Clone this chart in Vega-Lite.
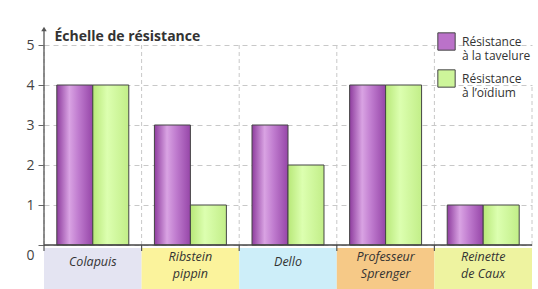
{
  "$schema": "https://vega.github.io/schema/vega-lite/v6.json",
  "width": 488,
  "height": 269,
  "autosize": {"type": "none"},
  "padding": {"left": 44, "top": 20, "right": 6, "bottom": 0},
  "background": "white",
  "config": {"view": {"stroke": null}, "font": "Open Sans"},
  "datasets": {
    "cats": [
      {"cat": "Colapuis", "label": "Colapuis"},
      {"cat": "Ribstein pippin", "label": "Ribstein\npippin"},
      {"cat": "Dello", "label": "Dello"},
      {"cat": "Professeur Sprenger", "label": "Professeur\nSprenger"},
      {"cat": "Reinette de Caux", "label": "Reinette\nde Caux"}
    ],
    "bars": [
      {"cat": "Colapuis", "serie": "Résistance|à la tavelure", "value": 4},
      {"cat": "Colapuis", "serie": "Résistance|à l’oïdium", "value": 4},
      {"cat": "Ribstein pippin", "serie": "Résistance|à la tavelure", "value": 3},
      {"cat": "Ribstein pippin", "serie": "Résistance|à l’oïdium", "value": 1},
      {"cat": "Dello", "serie": "Résistance|à la tavelure", "value": 3},
      {"cat": "Dello", "serie": "Résistance|à l’oïdium", "value": 2},
      {"cat": "Professeur Sprenger", "serie": "Résistance|à la tavelure", "value": 4},
      {"cat": "Professeur Sprenger", "serie": "Résistance|à l’oïdium", "value": 4},
      {"cat": "Reinette de Caux", "serie": "Résistance|à la tavelure", "value": 1},
      {"cat": "Reinette de Caux", "serie": "Résistance|à l’oïdium", "value": 1}
    ]
  },
  "layer": [
    {
      "data": {"name": "cats"},
      "mark": {"type": "rect"},
      "encoding": {
        "x": {
          "field": "cat", "type": "nominal",
          "scale": {"domain": ["Colapuis", "Ribstein pippin", "Dello", "Professeur Sprenger", "Reinette de Caux"], "paddingInner": 0, "paddingOuter": 0},
          "axis": null
        },
        "y": {
          "datum": -0.075, "type": "quantitative",
          "scale": {"domain": [-1.1, 5.625], "nice": false, "zero": false},
          "axis": {
            "values": [0, 1, 2, 3, 4, 5],
            "grid": true, "gridDash": [5, 4], "gridColor": "#c8c8c8",
            "domain": false, "tickColor": "#666", "tickSize": 6,
            "labelFontSize": 14, "labelColor": "#444", "labelPadding": 4,
            "labelOffset": {"condition": {"test": "datum.value === 0", "value": 10}, "value": 0},
            "title": "Échelle de résistance", "titleAngle": 0, "titleAlign": "left",
            "titleX": 10, "titleY": 20, "titleBaseline": "alphabetic",
            "titleFontSize": 14, "titleFontWeight": "bold", "titleColor": "#333"
          }
        },
        "y2": {"datum": -1.1},
        "fill": {
          "field": "cat", "type": "nominal",
          "scale": {"domain": ["Colapuis", "Ribstein pippin", "Dello", "Professeur Sprenger", "Reinette de Caux"], "range": ["#e4e4f2", "#fbf39c", "#cdeef9", "#f6c987", "#eef3a0"]},
          "legend": null
        }
      }
    },
    {
      "data": {"name": "cats"},
      "mark": {"type": "rule", "strokeDash": [4, 3], "color": "#c8c8c8"},
      "encoding": {
        "x": {"field": "cat", "type": "nominal", "bandPosition": 0},
        "y": {"datum": 0},
        "y2": {"datum": 5}
      }
    },
    {
      "data": {"name": "cats"},
      "transform": [{"filter": "datum.cat === 'Reinette de Caux'"}],
      "mark": {"type": "rule", "strokeDash": [4, 3], "color": "#c8c8c8"},
      "encoding": {
        "x": {"field": "cat", "type": "nominal", "bandPosition": 1},
        "y": {"datum": 0},
        "y2": {"datum": 4}
      }
    },
    {
      "data": {"name": "bars"},
      "mark": {"type": "bar", "stroke": "#444", "strokeWidth": 1},
      "encoding": {
        "x": {"field": "cat", "type": "nominal"},
        "xOffset": {"field": "serie", "type": "nominal", "scale": {"domain": ["Résistance|à la tavelure", "Résistance|à l’oïdium"], "paddingInner": 0, "paddingOuter": 0.356}},
        "y": {"field": "value", "type": "quantitative"},
        "y2": {"datum": 0},
        "fill": {
          "condition": {
            "test": "datum.serie === 'Résistance|à la tavelure'",
            "value": {"gradient": "linear", "x1": 0, "y1": 0, "x2": 1, "y2": 0, "stops": [
              {"offset": 0, "color": "#8e3c9e"}, {"offset": 0.35, "color": "#d9a3e3"},
              {"offset": 0.6, "color": "#c07ccf"}, {"offset": 1, "color": "#9646a8"}]}
          },
          "value": {"gradient": "linear", "x1": 0, "y1": 0, "x2": 1, "y2": 0, "stops": [
            {"offset": 0, "color": "#b8e878"}, {"offset": 0.4, "color": "#dcffb0"},
            {"offset": 1, "color": "#c2ee88"}]}
        }
      }
    },
    {
      "data": {"name": "bars"},
      "mark": {"type": "point", "shape": "square", "filled": true, "size": 0, "opacity": 0},
      "encoding": {
        "x": {"field": "cat", "type": "nominal"},
        "y": {"field": "value", "type": "quantitative"},
        "color": {
          "field": "serie", "type": "nominal",
          "scale": {
            "domain": ["Résistance|à la tavelure", "Résistance|à l’oïdium"],
            "range": ["#bb72c9", "#cdf59a"]
          },
          "legend": {
            "orient": "none", "legendX": 393, "legendY": 12, "title": null,
            "symbolType": "square", "symbolSize": 300, "symbolOpacity": 1,
            "symbolStrokeColor": "#444", "symbolStrokeWidth": 1,
            "labelFontSize": 12, "labelColor": "#333", "labelOffset": 6,
            "labelExpr": "split(datum.label, '|')", "rowPadding": 5
          }
        }
      }
    },
    {
      "data": {"name": "cats"},
      "transform": [{"filter": "indexof(datum.label, '\\n') < 0"}],
      "mark": {"type": "text", "fontStyle": "italic", "fontSize": 12.5, "color": "#333", "baseline": "middle"},
      "encoding": {
        "x": {"field": "cat", "type": "nominal"},
        "y": {"datum": -0.43},
        "text": {"field": "label"}
      }
    },
    {
      "data": {"name": "cats"},
      "transform": [{"filter": "indexof(datum.label, '\\n') >= 0"}],
      "mark": {"type": "text", "fontStyle": "italic", "fontSize": 12.5, "lineHeight": 17, "color": "#333", "lineBreak": "\n", "baseline": "middle"},
      "encoding": {
        "x": {"field": "cat", "type": "nominal"},
        "y": {"datum": -0.3},
        "text": {"field": "label"}
      }
    },
    {
      "data": {"name": "cats"},
      "mark": {"type": "rule", "color": "#555", "strokeWidth": 1.2},
      "encoding": {
        "x": {"field": "cat", "type": "nominal", "bandPosition": 0},
        "y": {"datum": 0},
        "y2": {"datum": -0.15}
      }
    },
    {
      "data": {"values": [{}]},
      "mark": {"type": "rule", "color": "#444", "strokeWidth": 1.5},
      "encoding": {"y": {"datum": 0}}
    },
    {
      "data": {"name": "cats"},
      "transform": [{"filter": "datum.cat === 'Colapuis'"}],
      "mark": {"type": "rule", "color": "#555", "strokeWidth": 1.3},
      "encoding": {
        "x": {"field": "cat", "type": "nominal", "bandPosition": 0},
        "y": {"datum": 0},
        "y2": {"datum": 5.35}
      }
    },
    {
      "data": {"name": "cats"},
      "transform": [{"filter": "datum.cat === 'Colapuis'"}],
      "mark": {"type": "point", "shape": "triangle-up", "filled": true, "size": 30, "color": "#555", "opacity": 1},
      "encoding": {
        "x": {"field": "cat", "type": "nominal", "bandPosition": 0},
        "y": {"datum": 5.4}
      }
    }
  ]
}
